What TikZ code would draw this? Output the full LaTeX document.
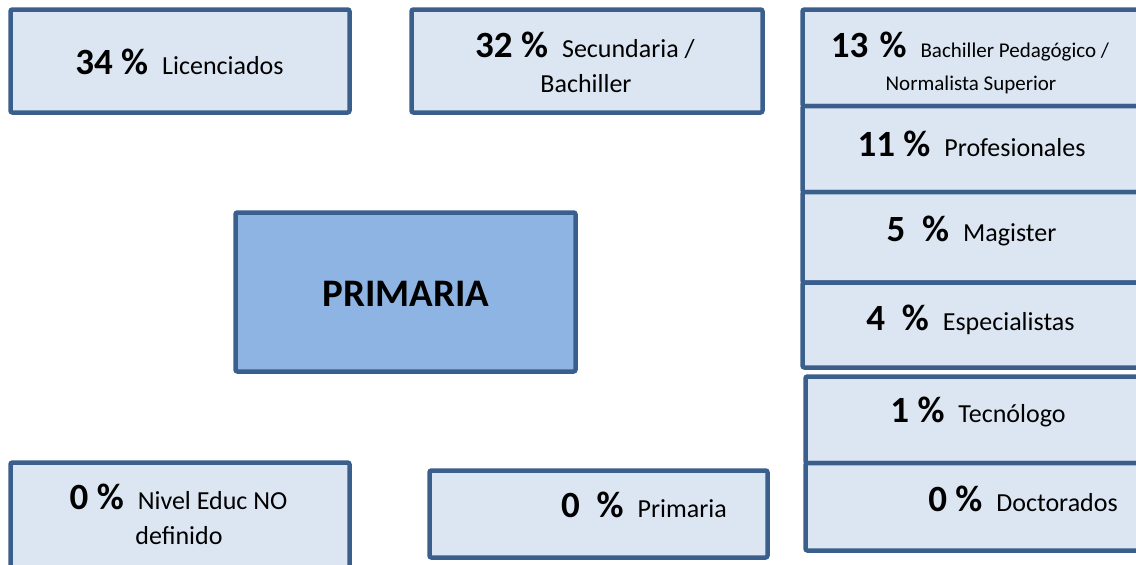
\documentclass[tikz,border=0pt]{standalone}
\usepackage{fontspec}
\setmainfont{Carlito}
\definecolor{boxfill}{HTML}{DCE6F2}
\definecolor{boxline}{HTML}{3A5F8C}
\definecolor{mainfill}{HTML}{8EB4E3}
\newcommand\pcb[1]{{\fontsize{37}{40}\selectfont\bfseries #1}\hspace{14pt}}
\newcommand\sml[1]{{\fontsize{21}{25}\selectfont #1}}
\begin{document}
\begin{tikzpicture}[x=1pt,y=-1pt,
  box/.style={draw=boxline, fill=boxfill, line width=4.5pt, rounded corners=2pt,
    inner sep=0pt},
  mainbox/.style={box, fill=mainfill},
  lbl/.style={inner sep=0pt, anchor=base, font=\fontsize{26}{30}\selectfont},
  mainlbl/.style={inner sep=0pt, anchor=base, font=\fontsize{39}{44}\selectfont\bfseries}]
\useasboundingbox (0,0) rectangle (1136,565);
\clip (0,0) rectangle (1136,565);
% boxes
\node[box, minimum width=339pt, minimum height=103pt] (lic) at (180,61) {};
\node[box, minimum width=351pt, minimum height=103pt] (sec) at (587,61) {};
\node[mainbox, minimum width=340pt, minimum height=159pt] (prim) at (405.5,292) {};
\node[box, minimum width=339pt, minimum height=113pt] (nivel) at (180,519) {};
\node[box, minimum width=338pt, minimum height=87pt] (pri0) at (598.5,514) {};
\node[box, minimum width=340pt, minimum height=96.5pt] (bp) at (972.5,57.75) {};
\node[box, minimum width=340pt, minimum height=86pt] (prof) at (972.5,149) {};
\node[box, minimum width=340pt, minimum height=90.5pt] (mag) at (972.5,237.25) {};
\node[box, minimum width=340pt, minimum height=85pt] (esp) at (972.5,325) {};
\node[box, minimum width=336.5pt, minimum height=86.5pt] (tec) at (973.75,419.75) {};
\node[box, minimum width=336.5pt, minimum height=87.5pt] (doc) at (973.75,506.75) {};
% texts
\node[lbl] (lic-t) at (179.5,74) {\pcb{34 \%}Licenciados};
\node[lbl] (sec-t1) at (585,57) {\pcb{32 \%}Secundaria /};
\node[lbl] (sec-t2) at (586,92.5) {Bachiller};
\node[mainlbl] (prim-t) at (406,306) {PRIMARIA};
\node[lbl] (nivel-t1) at (178.5,509) {\pcb{0 \%}Nivel Educ NO};
\node[lbl] (nivel-t2) at (179,544) {definido};
\node[lbl] (pri0-t) at (644,517.5) {\pcb{0\ \ \%}Primaria};
\node[lbl] (bp-t1) at (970,57) {\pcb{13\hspace{0.3em}\%}\sml{Bachiller Pedagógico /}};
\node[lbl] (bp-t2) at (971,90) {\sml{Normalista Superior}};
\node[lbl] (prof-t) at (971.5,156.5) {\pcb{11 \%}Profesionales};
\node[lbl] (mag-t) at (971.5,241.5) {\pcb{5\ \ \%}Magister};
\node[lbl] (esp-t) at (970.5,330) {\pcb{4\ \ \%}Especialistas};
\node[lbl] (tec-t) at (978,422.5) {\pcb{1 \%}Tecnólogo};
\node[lbl] (doc-t) at (1023,511.5) {\pcb{0 \%}Doctorados};
\end{tikzpicture}
\end{document}
